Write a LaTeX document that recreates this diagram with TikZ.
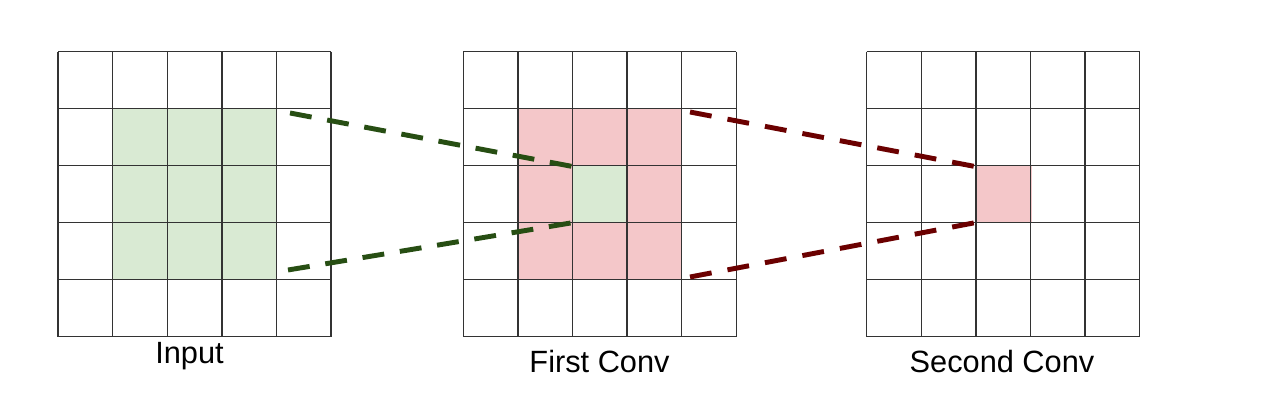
\documentclass[tikz,border=0pt]{standalone}
\usepackage{fontspec}
\setmainfont{Liberation Sans}
\definecolor{cellgreen}{HTML}{D9EAD3}
\definecolor{cellpink}{HTML}{F4C7C9}
\definecolor{linegreen}{HTML}{274E13}
\definecolor{linered}{HTML}{6B0000}

\begin{document}
\begin{tikzpicture}[x=0.02cm,y=-0.02cm]
    \tikzstyle{gridline}=[draw=black!80,line width=0.8pt]
    \tikzstyle{greendash}=[draw=linegreen,line width=2.8pt,dash pattern=on 12.5pt off 9pt]
    \tikzstyle{reddash}=[draw=linered,line width=2.8pt,dash pattern=on 12.5pt off 9.2pt]
    \tikzstyle{caption}=[anchor=base,inner sep=0pt,font=\fontsize{17.5}{20}\selectfont]
    \useasboundingbox (0,0) rectangle (1263,408);
    % highlighted cells
    \fill[cellgreen] (112.6,108.7) rectangle (276.4,279.7);
    \fill[cellpink] (517.9,108.7) rectangle (681.7,279.7);
    \fill[cellgreen] (572.5,165.7) rectangle (627.1,222.7);
    \fill[cellpink] (976.9,165.7) rectangle (1031.5,222.7);
    % three 5x5 grids
    \foreach \gx in {58,463.3,866.7} {
      \foreach \k in {0,...,5} {
        \draw[gridline] (\gx+\k*54.6,51.7) -- (\gx+\k*54.6,336.7);
        \draw[gridline] (\gx,51.7+\k*57) -- (\gx+273,51.7+\k*57);
      }
    }
    \coordinate (inTop) at (290,113);
    \coordinate (inBot) at (288,270);
    \coordinate (firstTop) at (572.5,166.5);
    \coordinate (firstBot) at (572.5,222.7);
    \coordinate (poolTop) at (690,112);
    \coordinate (poolBot) at (690,277);
    \coordinate (secondTop) at (975,166.5);
    \coordinate (secondBot) at (975,222.7);
    \draw[greendash] (inTop) -- (firstTop);
    \draw[greendash] (inBot) -- (firstBot);
    \draw[reddash] (poolTop) -- (secondTop);
    \draw[reddash] (poolBot) -- (secondBot);
    \node (inputlabel) at (189.5,363) [caption] {Input};
    \node (firstlabel) at (599.5,372) [caption] {First Conv};
    \node (secondlabel) at (1002,372) [caption] {Second Conv};
\end{tikzpicture}
\end{document}
